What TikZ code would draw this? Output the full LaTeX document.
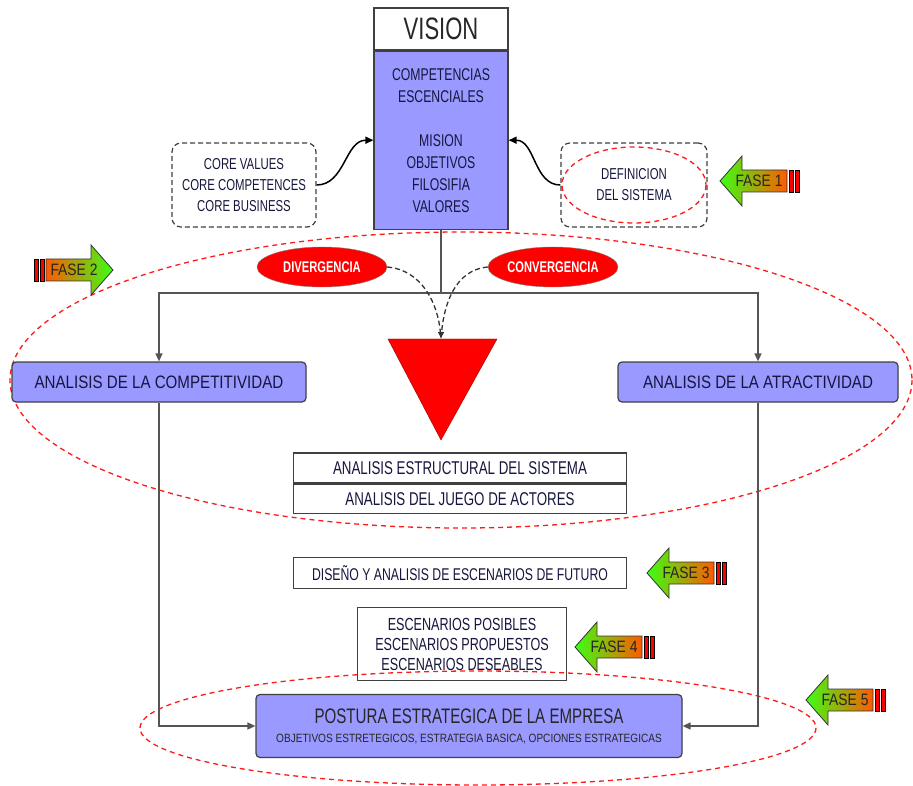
\documentclass[tikz,border=0pt]{standalone}
\usepackage{fontspec}
\setmainfont{Liberation Sans}[FakeStretch=0.72]
\newfontfamily\widefont{Liberation Sans}[FakeStretch=0.84]
\newfontfamily\visionfont{Liberation Sans}[FakeStretch=0.71]
\usetikzlibrary{arrows.meta,positioning,shapes.geometric}

\definecolor{boxblue}{RGB}{153,153,255}
\definecolor{inkblue}{RGB}{22,22,62}
\definecolor{fasegreen}{RGB}{60,255,20}
\definecolor{faseorange}{RGB}{255,90,0}
\definecolor{linegray}{RGB}{85,85,85}

\tikzset{
  txt/.style={font=\fontsize{17}{22}\selectfont, text=inkblue, align=center},
  bluebox/.style={txt, draw=black!75, line width=1.2pt, fill=boxblue, rounded corners=4pt, inner sep=0pt},
  plainbox/.style={txt, draw=black!75, line width=1.2pt, fill=white, inner sep=0pt},
  dashbox/.style={txt, draw=black!75, line width=1.2pt, dash pattern=on 5pt off 3pt, rounded corners=9pt, inner sep=0pt, font=\fontsize{15.8}{21}\selectfont},
  redoval/.style={ellipse, fill=red, draw=black!50, inner sep=0pt, minimum width=130pt, minimum height=40pt, text=white, font=\bfseries\fontsize{15.5}{18}\selectfont},
  redring/.style={red!90!white, line width=1.3pt, dash pattern=on 5pt off 4pt},
  link/.style={linegray, line width=1.5pt, -{Triangle[length=8pt,width=7pt]}},
  fasetext/.style={font=\widefont\fontsize{16.5}{18}\selectfont, text=black!85, inner sep=0pt},
}

% phase arrow: name, tip x, tip y, direction (1 left, -1 right), label, head colour, tail colour
\newcommand{\fase}[7]{%
  \begin{scope}[shift={(#2,#3)}, xscale=#4]
    \shade[left color=#6, right color=#7, draw=black!80, line width=0.8pt]
      (0,0) -- (22,-25) -- (22,-11) -- (67,-11) -- (67,11) -- (22,11) -- (22,25) -- cycle;
    \draw[fill=red, line width=0.8pt] (69,-11) rectangle (73,11);
    \draw[fill=red, line width=0.8pt] (75,-11) rectangle (79,11);
    \node[fasetext] (#1) at (39,0) {#5};
  \end{scope}}

\begin{document}
\begin{tikzpicture}[x=1pt,y=-1pt]
\useasboundingbox (0,0) rectangle (913,786);

% outer red ring
\draw[redring] (461,380) ellipse (451 and 148);

% vision block
\node[plainbox, minimum width=134pt, minimum height=42pt, font=\visionfont\fontsize{31}{31}\selectfont, text=black!85] (vistitle) at (441,29) {VISION};
\node[plainbox, fill=boxblue, minimum width=134pt, minimum height=178pt, below=0pt of vistitle] (visbody)
  {COMPETENCIAS\\ESCENCIALES\\[22pt]MISION\\OBJETIVOS\\FILOSIFIA\\VALORES};

\node[dashbox, minimum width=144pt, minimum height=84pt] (core) at (244,185) {CORE VALUES\\CORE COMPETENCES\\CORE BUSINESS};
\node[dashbox, minimum width=146pt, minimum height=84pt] (sistema) at (634,185) {DEFINICION\\DEL SISTEMA};
\draw[redring] (sistema.center) ellipse (72 and 38);

\draw[link, black] (core.east) to[out=0, in=180] (visbody.west);
\draw[link, black] (sistema.west) to[out=180, in=0] (visbody.east);

% split to the two analyses
\coordinate (split) at (441,293);
\coordinate (tritop) at (441,339);
\draw[linegray, line width=1.5pt] (visbody.south) -- (split);

\node[bluebox, minimum width=294pt, minimum height=40pt, font=\widefont\fontsize{18}{22}\selectfont] (compet) at (159,382) {ANALISIS DE LA COMPETITIVIDAD};
\node[bluebox, minimum width=280pt, minimum height=40pt, font=\widefont\fontsize{18}{22}\selectfont] (atract) at (758,382) {ANALISIS DE LA ATRACTIVIDAD};
\draw[link] (split) -| (compet.north);
\draw[link] (split) -| (atract.north);

\node[redoval] (diverg) at (322,267) {DIVERGENCIA};
\node[redoval] (converg) at (553,267) {CONVERGENCIA};

\filldraw[fill=red, draw=red!60!black] (388,339) -- (497,339) -- (441,440) -- cycle;
\draw[black!80, line width=1.3pt, dash pattern=on 5pt off 3pt, -{Latex[length=7pt]}] (diverg.east) to[out=-5, in=95] (tritop);
\draw[black!80, line width=1.3pt, dash pattern=on 5pt off 3pt, -{Latex[length=7pt]}] (converg.west) to[out=185, in=85] (tritop);

% middle column
\node[plainbox, minimum width=333pt, minimum height=30pt, font=\fontsize{18.5}{22}\selectfont] (estruct) at (460,468) {ANALISIS ESTRUCTURAL DEL SISTEMA};
\node[plainbox, minimum width=333pt, minimum height=29pt, font=\fontsize{18.5}{22}\selectfont, below=0pt of estruct] (actores) {ANALISIS DEL JUEGO DE ACTORES};

\node[plainbox, minimum width=333pt, minimum height=31pt] (futuro) at (460,573) {DISE\~NO Y ANALISIS DE ESCENARIOS DE FUTURO};
\node[plainbox, minimum width=209pt, minimum height=73pt, font=\fontsize{17.5}{20}\selectfont] (escen) at (462,644)
  {ESCENARIOS POSIBLES\\ESCENARIOS PROPUESTOS\\ESCENARIOS DESEABLES};

\draw[redring] (478,728) ellipse (338 and 57);

\node[bluebox, minimum width=426pt, minimum height=63pt, text=black!85] (postura) at (469,726)
  {{\fontsize{21}{24}\selectfont POSTURA ESTRATEGICA DE LA EMPRESA}\\[-3pt]
   {\widefont\fontsize{12}{14}\selectfont OBJETIVOS ESTRETEGICOS, ESTRATEGIA BASICA, OPCIONES ESTRATEGICAS}};
\draw[link] (compet.south) |- (postura.west);
\draw[link] (atract.south) |- (postura.east);

% phases
\fase{fase1}{720}{181}{1}{FASE 1}{fasegreen}{faseorange}
\fase{fase2}{113}{270}{-1}{FASE 2}{faseorange}{fasegreen}
\fase{fase3}{647}{573}{1}{FASE 3}{fasegreen}{faseorange}
\fase{fase4}{575}{647}{1}{FASE 4}{fasegreen}{faseorange}
\fase{fase5}{806}{700}{1}{FASE 5}{fasegreen}{faseorange}
\end{tikzpicture}
\end{document}
